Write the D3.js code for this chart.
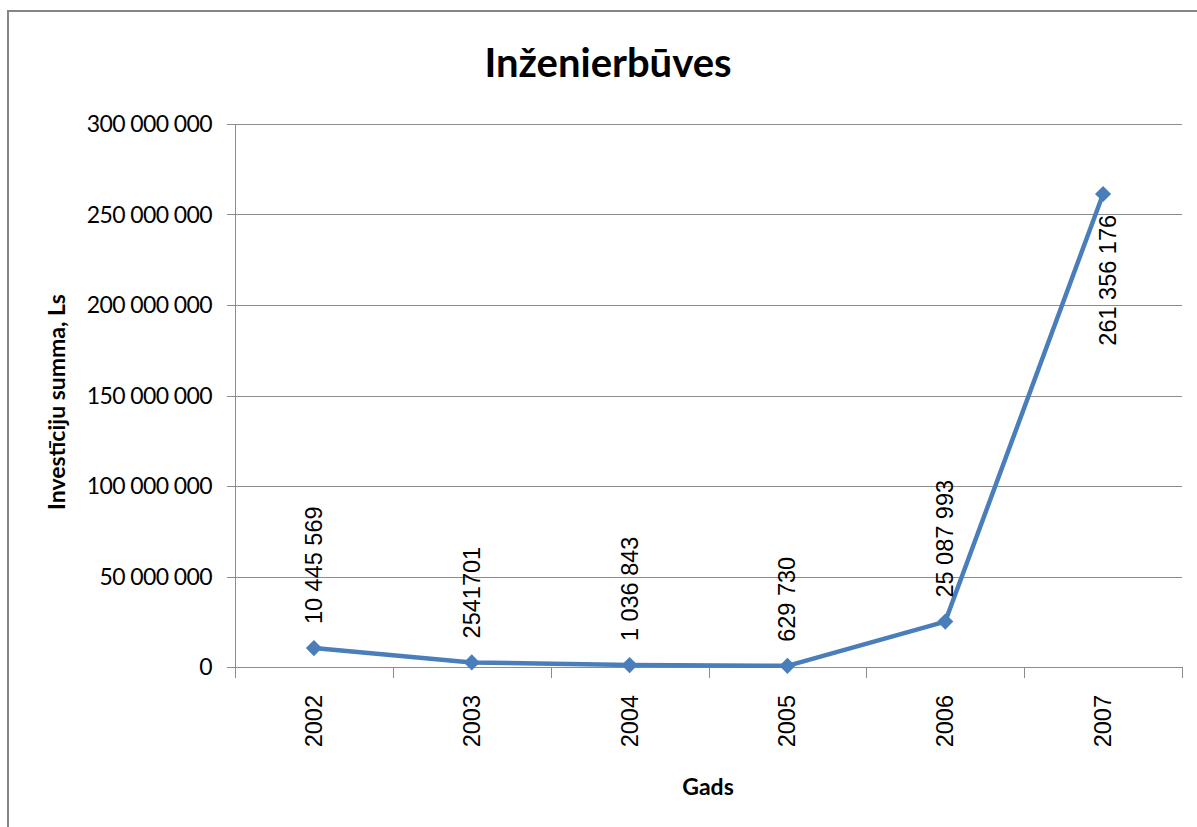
<!DOCTYPE html>
<html>
<head>
<meta charset="utf-8">
<script src="https://cdn.jsdelivr.net/npm/d3@7"></script>
<style>
    body { margin: 0; background: #fff; }
    .tick-y { font-family: Lato, "Open Sans", sans-serif; font-size: 23px; fill: #000; }
    .tick-x, .value-label { font-family: "Liberation Sans", Arial, sans-serif; font-size: 23.5px; fill: #000; }
    .axis-title { font-family: Lato, "Open Sans", sans-serif; font-weight: bold; font-size: 23px; fill: #000; }
    .title { font-family: Lato, "Open Sans", sans-serif; font-weight: bold; font-size: 40px; fill: #000; }
</style>
</head>
<body>
<script>
const years = ["2002", "2003", "2004", "2005", "2006", "2007"];
const values = [10445569, 2541701, 1036843, 629730, 25087993, 261356176];
const valueLabels = ["10 445 569", "2541701", "1 036 843", "629 730", "25 087 993", "261 356 176"];
const yTicks = [0, 50000000, 100000000, 150000000, 200000000, 250000000, 300000000];

const chartTitle = "Inženierbūves";
const yTitle = "Investīciju summa, Ls";
const xTitle = "Gads";

const totalWidth = 1197,
    totalHeight = 827;
const margin = {top: 124, right: 15, bottom: 160, left: 235},
    width = 1182 - margin.left,
    height = 667 - margin.top;

const svg = d3.select("body").append("svg")
    .attr("width", totalWidth)
    .attr("height", totalHeight);

// chart frame (only left and top edges are inside the picture)
svg.append("rect")
    .attr("x", 8).attr("y", 11)
    .attr("width", 1300).attr("height", 1000)
    .attr("fill", "#fff")
    .attr("stroke", "#868686")
    .attr("stroke-width", 2);

const x = d3.scaleBand()
    .domain(years)
    .range([0, width]);

const y = d3.scaleLinear()
    .domain([0, 300000000])
    .range([height, 0]);

const fmt = v => d3.format(",")(v).replace(/,/g, " ");

const diagram = svg.append("g")
    .attr("transform", `translate(${margin.left},${margin.top})`);

// horizontal grid lines
diagram.append("g")
    .selectAll("line")
    .data(yTicks)
    .join("line")
    .attr("x1", -8).attr("x2", width)
    .attr("y1", d => Math.round(y(d)) + 0.5)
    .attr("y2", d => Math.round(y(d)) + 0.5)
    .attr("stroke", "#8c8c8c")
    .attr("stroke-width", 1);

// y axis
diagram.append("line")
    .attr("x1", 0.5).attr("x2", 0.5)
    .attr("y1", 0).attr("y2", height)
    .attr("stroke", "#8c8c8c");

diagram.append("g")
    .selectAll("text")
    .data(yTicks)
    .join("text")
    .attr("class", "tick-y")
    .attr("x", -23)
    .attr("y", d => y(d))
    .attr("dy", "0.35em")
    .attr("text-anchor", "end")
    .attr("letter-spacing", "-0.6")
    .text(fmt);

// x axis
const xAxis = diagram.append("g")
    .attr("transform", `translate(0,${height})`);
xAxis.append("line")
    .attr("x1", 0).attr("x2", width)
    .attr("y1", 0.5).attr("y2", 0.5)
    .attr("stroke", "#8c8c8c");
xAxis.selectAll("line.tick")
    .data(years.concat([null]))
    .join("line")
    .attr("class", "tick")
    .attr("x1", (d, i) => Math.round(i * x.step()) + 0.5)
    .attr("x2", (d, i) => Math.round(i * x.step()) + 0.5)
    .attr("y1", 0).attr("y2", 11)
    .attr("stroke", "#8c8c8c");
xAxis.selectAll("text")
    .data(years)
    .join("text")
    .attr("class", "tick-x")
    .attr("text-anchor", "end")
    .attr("transform", d => `translate(${x(d) + x.bandwidth() / 2 + 8},28) rotate(-90)`)
    .text(d => d);

// the series line
const cx = d => x(d) + x.bandwidth() / 2;
const line = d3.line()
    .x(d => cx(d.year))
    .y(d => y(d.value));
const points = years.map((year, i) => ({year, value: values[i], label: valueLabels[i]}));

diagram.append("path")
    .datum(points)
    .attr("d", line)
    .attr("fill", "none")
    .attr("stroke", "#4a7ebb")
    .attr("stroke-width", 4.5)
    .attr("stroke-linejoin", "round");

diagram.append("g")
    .selectAll("path")
    .data(points)
    .join("path")
    .attr("d", d3.symbol().type(d3.symbolSquare).size(130))
    .attr("transform", d => `translate(${cx(d.year)},${y(d.value)}) rotate(45)`)
    .attr("fill", "#4a7ebb");

// value labels, rotated; the last one sits below its marker
diagram.append("g")
    .selectAll("text")
    .data(points)
    .join("text")
    .attr("class", "value-label")
    .attr("text-anchor", (d, i) => i === points.length - 1 ? "end" : "start")
    .attr("transform", (d, i) => i === points.length - 1
        ? `translate(${cx(d.year) + 13},${y(d.value) + 21}) rotate(-90)`
        : `translate(${cx(d.year) + 8},${y(d.value) - 24}) rotate(-90)`)
    .text(d => d.label);

// titles
svg.append("text")
    .attr("class", "title")
    .attr("x", 608).attr("y", 77)
    .attr("text-anchor", "middle")
    .text(chartTitle);

svg.append("text")
    .attr("class", "axis-title")
    .attr("text-anchor", "middle")
    .attr("transform", "translate(65,402) rotate(-90)")
    .text(yTitle);

svg.append("text")
    .attr("class", "axis-title")
    .attr("x", 708).attr("y", 795)
    .attr("text-anchor", "middle")
    .text(xTitle);
</script>
</body>
</html>
